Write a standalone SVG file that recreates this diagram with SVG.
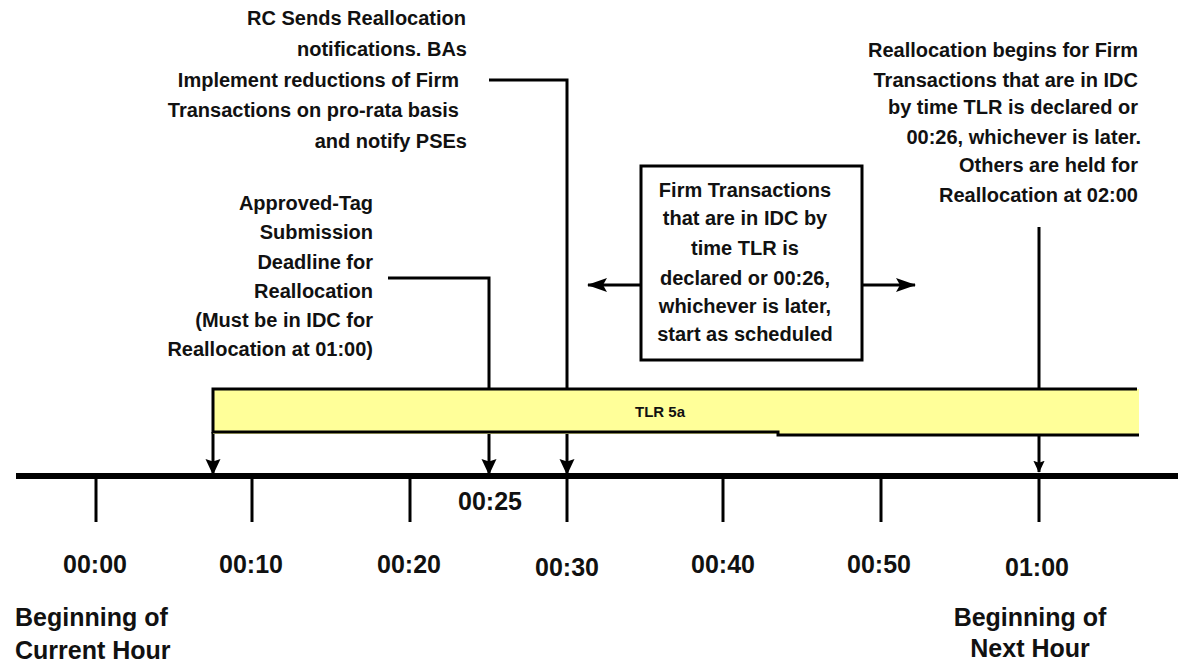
<svg xmlns="http://www.w3.org/2000/svg" width="1178" height="664" viewBox="0 0 1178 664">
  <style>
    .t { font-family: "Liberation Sans", Arial, sans-serif; font-weight: bold; font-size: 20px; fill: #111; }
    .lg { font-size: 25px; }
    .sm { font-size: 15px; }
    .end { text-anchor: end; }
    .mid { text-anchor: middle; }
    .ln { stroke: #000; stroke-width: 3; fill: none; }
    .tick { stroke: #000; stroke-width: 3; }
  </style>
  <defs>
    <!-- notched filled arrowhead, sized in user units -->
    <marker id="head" viewBox="0 0 16 16" refX="15" refY="8" markerWidth="16" markerHeight="16" markerUnits="userSpaceOnUse" orient="auto">
      <path d="M0,0.5 L16,8 L0,15.5 L2.5,8 Z" fill="#000"/>
    </marker>
    <marker id="headWide" viewBox="0 0 20 16" refX="19" refY="8" markerWidth="20" markerHeight="16" markerUnits="userSpaceOnUse" orient="auto">
      <path d="M0,1 L20,8 L0,15 L4,8 Z" fill="#000"/>
    </marker>
    <marker id="headSmall" viewBox="0 0 16 16" refX="15" refY="8" markerWidth="12" markerHeight="14" markerUnits="userSpaceOnUse" orient="auto">
      <path d="M0,0.5 L16,8 L0,15.5 L2.5,8 Z" fill="#000"/>
    </marker>
  </defs>

  <rect width="1178" height="664" fill="#fff"/>

  <!-- connectors: callout leaders dropping onto the timeline, and the box's span arrows -->
  <g id="connectors">
    <path class="ln" d="M213,432 V474" marker-end="url(#head)"/>
    <path class="ln" d="M388,278 H489 V474" marker-end="url(#head)"/>
    <path class="ln" d="M489,80 H567 V474" marker-end="url(#head)"/>
    <path class="ln" d="M1039,227 V472" marker-end="url(#headSmall)"/>
    <path class="ln" d="M641,285 H588" marker-end="url(#headWide)"/>
    <path class="ln" d="M862,285 H915" marker-end="url(#headWide)"/>
  </g>

  <!-- timeline axis with ten-minute ticks -->
  <g id="axis">
    <line x1="16" y1="476" x2="1178" y2="476" stroke="#000" stroke-width="6"/>
    <line class="tick" x1="96" y1="476" x2="96" y2="522"/>
    <line class="tick" x1="252" y1="476" x2="252" y2="522"/>
    <line class="tick" x1="410" y1="476" x2="410" y2="522"/>
    <line class="tick" x1="567" y1="476" x2="567" y2="522"/>
    <line class="tick" x1="723" y1="476" x2="723" y2="522"/>
    <line class="tick" x1="881" y1="476" x2="881" y2="522"/>
    <line class="tick" x1="1039" y1="476" x2="1039" y2="522"/>
  </g>

  <g id="tick-labels" class="t lg mid">
    <text x="95" y="573">00:00</text>
    <text x="251" y="573">00:10</text>
    <text x="409" y="573">00:20</text>
    <text x="567" y="576">00:30</text>
    <text x="723" y="573">00:40</text>
    <text x="879" y="573">00:50</text>
    <text x="1037" y="576">01:00</text>
    <text x="490" y="510">00:25</text>
  </g>

  <!-- TLR 5a duration bar -->
  <g id="tlr-bar">
    <rect x="213" y="389" width="926" height="45" fill="#FFFF99"/>
    <path d="M1137,389 H213 V432 H778 V435 H1139" fill="none" stroke="#000" stroke-width="3"/>
    <text class="t sm mid" x="660" y="417">TLR 5a</text>
  </g>

  <g id="note-rc" class="t end">
    <text x="466" y="25">RC Sends Reallocation</text>
    <text x="467" y="56">notifications. BAs</text>
    <text x="459" y="87">Implement reductions of Firm</text>
    <text x="459" y="117">Transactions on pro-rata basis</text>
    <text x="467" y="148">and notify PSEs</text>
  </g>

  <g id="note-approved-tag" class="t end">
    <text x="373" y="210">Approved-Tag</text>
    <text x="373" y="239">Submission</text>
    <text x="373" y="269">Deadline for</text>
    <text x="373" y="298">Reallocation</text>
    <text x="373" y="327">(Must be in IDC for</text>
    <text x="373" y="356">Reallocation at 01:00)</text>
  </g>

  <g id="note-firm-box">
    <rect x="641" y="166" width="221" height="194" fill="#fff" stroke="#000" stroke-width="3"/>
    <g class="t mid">
      <text x="745" y="197">Firm Transactions</text>
      <text x="745" y="225">that are in IDC by</text>
      <text x="745" y="255">time TLR is</text>
      <text x="745" y="285">declared or 00:26,</text>
      <text x="745" y="313">whichever is later,</text>
      <text x="745" y="341">start as scheduled</text>
    </g>
  </g>

  <g id="note-reallocation" class="t end">
    <text x="1138" y="57">Reallocation begins for Firm</text>
    <text x="1138" y="87">Transactions that are in IDC</text>
    <text x="1138" y="114">by time TLR is declared or</text>
    <text x="1141" y="144">00:26, whichever is later.</text>
    <text x="1138" y="172">Others are held for</text>
    <text x="1138" y="202">Reallocation at 02:00</text>
  </g>

  <g id="label-current-hour" class="t lg">
    <text x="15" y="626">Beginning of</text>
    <text x="15" y="659">Current Hour</text>
  </g>

  <g id="label-next-hour" class="t lg mid">
    <text x="1030" y="626">Beginning of</text>
    <text x="1030" y="657">Next Hour</text>
  </g>
</svg>
